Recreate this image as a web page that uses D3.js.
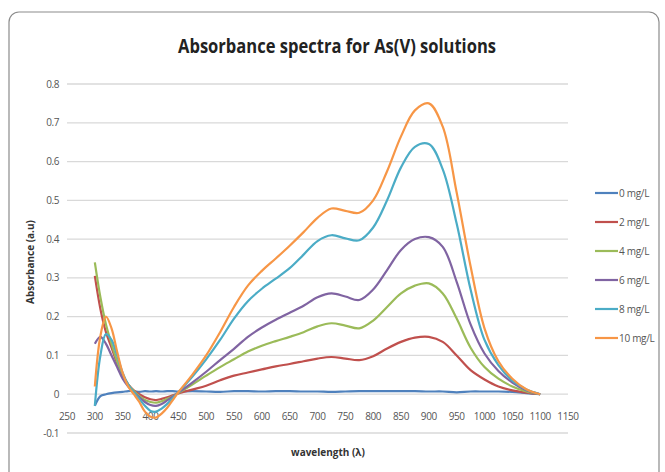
<!DOCTYPE html>
<html>
<head>
<meta charset="utf-8">
<script src="https://cdn.jsdelivr.net/npm/d3@7"></script>
<style>
	body { margin: 0; background: #fff; }
	text { font-family: 'Open Sans', sans-serif; }
</style>
</head>
<body>
<svg id="chart" width="665" height="472"></svg>
<script>
// wavelength samples (nm)
const wavelengths = [300, 310, 320, 330, 340, 350, 360, 370, 380, 390, 400, 410, 420, 430, 440, 450,
	475, 500, 525, 550, 575, 600, 625, 650, 675, 700, 725, 750, 775, 800, 825, 850, 875, 900,
	925, 950, 975, 1000, 1025, 1050, 1075, 1100]

// absorbance readings for each concentration
const abs0 = [-0.03, -0.005, 0.0, 0.003, 0.005, 0.006, 0.008, 0.008, 0.006, 0.008, 0.007, 0.008, 0.007, 0.008, 0.008, 0.007,
	0.008, 0.007, 0.006, 0.008, 0.008, 0.007, 0.008, 0.008, 0.007, 0.007, 0.006, 0.007, 0.008, 0.008, 0.008, 0.008, 0.008, 0.007,
	0.007, 0.005, 0.007, 0.007, 0.007, 0.006, 0.003, 0]
const abs2 = [0.305, 0.22, 0.16, 0.12, 0.08, 0.048, 0.025, 0.01, 0.0, -0.008, -0.013, -0.015, -0.012, -0.008, -0.003, 0.002,
	0.012, 0.022, 0.036, 0.048, 0.056, 0.064, 0.072, 0.078, 0.085, 0.092, 0.096, 0.092, 0.088, 0.098, 0.118, 0.135, 0.146, 0.148,
	0.135, 0.1, 0.062, 0.038, 0.02, 0.01, 0.004, 0]
const abs4 = [0.34, 0.25, 0.18, 0.13, 0.085, 0.05, 0.025, 0.008, -0.005, -0.015, -0.02, -0.022, -0.018, -0.012, -0.005, 0.003,
	0.025, 0.048, 0.07, 0.09, 0.11, 0.125, 0.137, 0.148, 0.16, 0.175, 0.183, 0.177, 0.17, 0.19, 0.225, 0.26, 0.28, 0.286,
	0.26, 0.195, 0.12, 0.07, 0.04, 0.02, 0.007, 0]
const abs6 = [0.13, 0.148, 0.13, 0.1, 0.07, 0.04, 0.02, 0.005, -0.008, -0.02, -0.028, -0.03, -0.025, -0.016, -0.006, 0.004,
	0.03, 0.058, 0.088, 0.117, 0.148, 0.172, 0.192, 0.21, 0.228, 0.25, 0.26, 0.252, 0.243, 0.27, 0.32, 0.372, 0.4, 0.405,
	0.38, 0.29, 0.18, 0.105, 0.06, 0.03, 0.01, 0]
const abs8 = [-0.03, 0.1, 0.155, 0.14, 0.1, 0.055, 0.025, 0.005, -0.012, -0.03, -0.043, -0.045, -0.037, -0.025, -0.01, 0.005,
	0.045, 0.09, 0.14, 0.195, 0.24, 0.272, 0.298, 0.325, 0.36, 0.395, 0.41, 0.402, 0.397, 0.43, 0.5, 0.585, 0.638, 0.645,
	0.58, 0.44, 0.27, 0.14, 0.075, 0.035, 0.012, 0]
const abs10 = [0.02, 0.15, 0.2, 0.17, 0.11, 0.055, 0.02, 0.0, -0.02, -0.045, -0.058, -0.06, -0.05, -0.035, -0.015, 0.005,
	0.05, 0.1, 0.16, 0.225, 0.28, 0.318, 0.35, 0.383, 0.418, 0.455, 0.479, 0.473, 0.468, 0.5, 0.575, 0.665, 0.732, 0.75,
	0.69, 0.52, 0.33, 0.17, 0.085, 0.04, 0.013, 0]

const seriesNames = ['0 mg/L', '2 mg/L', '4 mg/L', '6 mg/L', '8 mg/L', '10 mg/L']
const seriesValues = [abs0, abs2, abs4, abs6, abs8, abs10]
const seriesColors = ['#4f81bd', '#c0504d', '#9bbb59', '#8064a2', '#4bacc6', '#f79646']
const xTicks = d3.range(250, 1151, 50)
const yTicks = [-0.1, 0, 0.1, 0.2, 0.3, 0.4, 0.5, 0.6, 0.7, 0.8]

const svg = d3.select('#chart')

// rounded chart frame
svg.append('rect')
	.attr('x', 9).attr('y', 12)
	.attr('width', 650).attr('height', 480)
	.attr('rx', 10)
	.attr('fill', '#fff')
	.attr('stroke', '#8c8c8c')
	.attr('stroke-width', 1.2)

const x = d3.scaleLinear().domain([250, 1150]).range([67, 568])
const y = d3.scaleLinear().domain([-0.1, 0.8]).range([433, 84])

// horizontal gridlines
svg.append('g')
	.selectAll('line')
	.data(yTicks)
	.join('line')
	.attr('x1', x(250)).attr('x2', x(1150))
	.attr('y1', d => y(d)).attr('y2', d => y(d))
	.attr('stroke', '#d9d9d9')
	.attr('stroke-width', 1.3)

// y axis labels
svg.append('g')
	.selectAll('text')
	.data(yTicks)
	.join('text')
	.attr('x', 59)
	.attr('y', d => y(d) + 3.5)
	.attr('text-anchor', 'end')
	.attr('fill', '#555')
	.style('font-size', '10px')
	.style('letter-spacing', '-0.4px')
	.text(d => d3.format('.1~f')(d).replace('\u2212', '-'))

// x axis labels sit just below the zero line
svg.append('g')
	.selectAll('text')
	.data(xTicks)
	.join('text')
	.attr('x', d => x(d))
	.attr('y', y(0) + 26)
	.attr('text-anchor', 'middle')
	.attr('fill', '#555')
	.style('font-size', '10px')
	.style('letter-spacing', '-0.4px')
	.text(d => d)

// spectra
const line = d3.line()
	.x((d, i) => x(wavelengths[i]))
	.y(d => y(d))
	.curve(d3.curveCatmullRom.alpha(0.5))

svg.append('g')
	.selectAll('path')
	.data(seriesValues)
	.join('path')
	.attr('d', line)
	.attr('fill', 'none')
	.attr('stroke', (d, i) => seriesColors[i])
	.attr('stroke-width', 2.2)
	.attr('stroke-linejoin', 'round')

// titles
svg.append('text')
	.attr('x', 337).attr('y', 53)
	.attr('text-anchor', 'middle')
	.attr('fill', '#222')
	.attr('textLength', 318)
	.attr('lengthAdjust', 'spacingAndGlyphs')
	.style('font-size', '19px')
	.style('font-weight', 'bold')
	.text('Absorbance spectra for As(V) solutions')

svg.append('text')
	.attr('transform', 'translate(34,262) rotate(-90)')
	.attr('text-anchor', 'middle')
	.attr('fill', '#333')
	.style('font-size', '10px')
	.style('font-weight', 'bold')
	.text('Absorbance (a.u)')

svg.append('text')
	.attr('x', 328).attr('y', 456)
	.attr('text-anchor', 'middle')
	.attr('fill', '#333')
	.style('font-size', '10px')
	.style('font-weight', 'bold')
	.text('wavelength (λ)')

// legend
const legend = svg.append('g')
	.selectAll('g')
	.data(seriesNames)
	.join('g')
	.attr('transform', (d, i) => 'translate(595,' + (193 + i * 29) + ')')

legend.append('line')
	.attr('x1', 0).attr('x2', 23)
	.attr('stroke', (d, i) => seriesColors[i])
	.attr('stroke-width', 2.2)

legend.append('text')
	.attr('x', 24).attr('y', 3.5)
	.attr('fill', '#555')
	.style('font-size', '10px')
	.style('letter-spacing', '-0.3px')
	.text(d => d)
</script>
</body>
</html>
